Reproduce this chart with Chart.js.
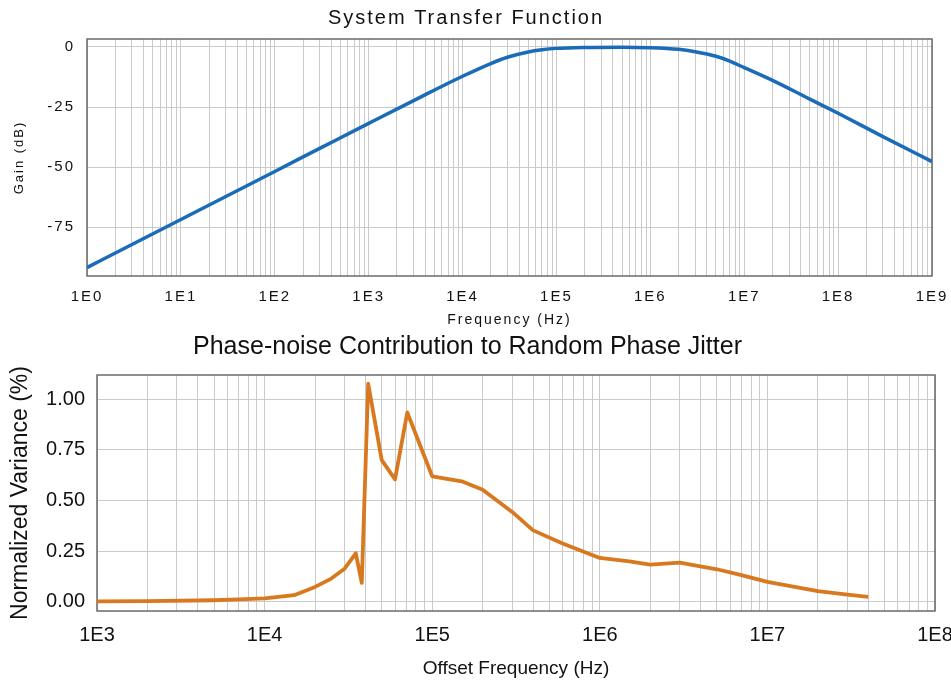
<!DOCTYPE html>
<html>
<head>
<meta charset="utf-8">
<script src="https://cdn.jsdelivr.net/npm/chart.js@4/dist/chart.umd.min.js"></script>
<style>
  html, body { margin: 0; padding: 0; background: #fff; }
  canvas { display: block; }
</style>
</head>
<body>
<canvas id="gain" width="951" height="330"></canvas>
<canvas id="jitter" width="951" height="353"></canvas>
<script>
// System transfer function
var gainFreq = [1, 3.16, 10, 31.6, 100, 316, 1000, 3160, 1e4, 2e4, 3e4, 5e4, 7e4, 1e5, 2e5, 5e5,
	1e6, 2e6, 3e6, 5e6, 7e6, 1e7, 2e7, 5e7, 1e8, 3e8, 1e9];
var gainDb = [-91.8, -81.8, -71.8, -61.8, -51.8, -41.8, -31.8, -21.9, -12.2, -6.9, -4.3, -2.1, -1.2, -0.6, -0.2, -0.1,
	-0.3, -1.0, -2.0, -3.9, -5.9, -8.6, -13.9, -21.7, -27.6, -37.3, -47.7];
var gainTicksY = [-75, -50, -25, 0];

// Phase-noise contribution
var jitterFreq = [1e3, 2e3, 5e3, 7e3, 1e4, 1.5e4, 2e4, 2.5e4, 3e4, 3.5e4, 3.8e4, 4.15e4, 5e4, 6e4, 7.1e4,
	1e5, 1.5e5, 2e5, 3e5, 4e5, 6e5, 1e6, 1.5e6, 2e6, 3e6, 5e6, 7e6, 1e7, 2e7, 3e7, 4e7];
var jitterVar = [0.003, 0.004, 0.008, 0.012, 0.017, 0.033, 0.074, 0.115, 0.164, 0.24, 0.094, 1.077, 0.70, 0.605, 0.935,
	0.62, 0.595, 0.554, 0.444, 0.353, 0.288, 0.217, 0.20, 0.184, 0.194, 0.161, 0.132, 0.099, 0.053, 0.036, 0.025];
var jitterTicksY = [0, 0.25, 0.5, 0.75, 1.0];

var FONT = "'Liberation Sans', Arial, sans-serif";
var GRID = '#cacaca';

function decadeTicks(e0, e1) {
	var out = [];
	for (var e = e0; e < e1; e++) {
		for (var m = 1; m <= 9; m++) out.push({value: m * Math.pow(10, e)});
	}
	out.push({value: Math.pow(10, e1)});
	return out;
}
function decadeLabel(v) {
	var e = Math.log10(v);
	if (Math.abs(e - Math.round(e)) < 1e-6) return '1E' + Math.round(e);
	return '';
}
function toPoints(xs, ys) {
	return xs.map(function(x, i) { return {x: x, y: ys[i]}; });
}

var frame = {
	id: 'frame',
	beforeDatasetsDraw: function(chart) {
		var a = chart.chartArea, ctx = chart.ctx;
		ctx.save();
		ctx.strokeStyle = '#6a6a6a';
		ctx.lineWidth = 1.5;
		ctx.strokeRect(a.left, a.top, a.right - a.left, a.bottom - a.top);
		ctx.restore();
	}
};
var spacing = {
	id: 'spacing',
	beforeDraw: function(chart, args, opts) { chart.ctx.letterSpacing = opts.px + 'px'; }
};

var gainConfig = {
	type: 'line',
	data: {
		datasets: [{
			data: toPoints(gainFreq, gainDb),
			borderColor: '#1a6cb8',
			borderWidth: 3.5,
			pointRadius: 0,
			cubicInterpolationMode: 'monotone',
			fill: false
		}]
	},
	options: {
		responsive: false,
		animation: false,
		layout: {padding: {left: 0, right: 19, top: 0, bottom: 0}},
		plugins: {
			legend: {display: false},
			tooltip: {enabled: false},
			spacing: {px: 2},
			title: {
				display: true,
				text: 'System Transfer Function',
				color: '#111',
				font: {family: FONT, size: 20, weight: 'normal'},
				padding: {top: 6, bottom: 9}
			}
		},
		scales: {
			x: {
				type: 'logarithmic',
				min: 1, max: 1e9,
				afterBuildTicks: function(s) { s.ticks = decadeTicks(0, 9); },
				afterFit: function(s) { s.height = 54; s.paddingLeft = 0; s.paddingRight = 0; },
				grid: {color: GRID, drawTicks: false},
				border: {display: false},
				ticks: {
					autoSkip: false, maxRotation: 0, padding: 12,
					color: '#111', font: {family: FONT, size: 15},
					callback: decadeLabel
				},
				title: {
					display: true, text: 'Frequency (Hz)', color: '#111',
					font: {family: FONT, size: 14}, padding: {top: 0, bottom: 1}
				}
			},
			y: {
				min: -95.3, max: 3.3,
				afterBuildTicks: function(s) { s.ticks = gainTicksY.map(function(v) { return {value: v}; }); },
				afterFit: function(s) { s.width = 87; s.paddingTop = 0; s.paddingBottom = 0; },
				grid: {color: GRID, drawTicks: false},
				border: {display: false},
				ticks: {
					padding: 12, color: '#111', font: {family: FONT, size: 15},
					callback: function(v) { return String(v); }
				},
				title: {
					display: true, text: 'Gain (dB)', color: '#111',
					font: {family: FONT, size: 13}, padding: {top: 12}
				}
			}
		}
	},
	plugins: [frame, spacing]
};

var jitterConfig = {
	type: 'line',
	data: {
		datasets: [{
			data: toPoints(jitterFreq, jitterVar),
			borderColor: '#d9791f',
			borderWidth: 3.8,
			pointRadius: 0,
			tension: 0,
			borderJoinStyle: 'round',
			fill: false
		}]
	},
	options: {
		responsive: false,
		animation: false,
		layout: {padding: {left: 0, right: 16, top: 0, bottom: 0}},
		plugins: {
			legend: {display: false},
			tooltip: {enabled: false},
			title: {
				display: true,
				text: 'Phase-noise Contribution to Random Phase Jitter',
				color: '#111',
				font: {family: FONT, size: 25, weight: 'normal'},
				padding: {top: 2, bottom: 13}
			}
		},
		scales: {
			x: {
				type: 'logarithmic',
				min: 1e3, max: 1e8,
				afterBuildTicks: function(s) { s.ticks = decadeTicks(3, 8); },
				afterFit: function(s) { s.height = 72; s.paddingLeft = 0; s.paddingRight = 0; },
				grid: {color: GRID, drawTicks: false},
				border: {display: false},
				ticks: {
					autoSkip: false, maxRotation: 0, padding: 12,
					color: '#111', font: {family: FONT, size: 20},
					callback: decadeLabel
				},
				title: {
					display: true, text: 'Offset Frequency (Hz)', color: '#111',
					font: {family: FONT, size: 19}, padding: {top: 0, bottom: 3}
				}
			},
			y: {
				min: -0.045, max: 1.12,
				afterBuildTicks: function(s) { s.ticks = jitterTicksY.map(function(v) { return {value: v}; }); },
				afterFit: function(s) { s.width = 97; s.paddingTop = 0; s.paddingBottom = 0; },
				grid: {color: GRID, drawTicks: false},
				border: {display: false},
				ticks: {
					padding: 12, color: '#111', font: {family: FONT, size: 20},
					callback: function(v) { return v.toFixed(2); }
				},
				title: {
					display: true, text: 'Normalized Variance (%)', color: '#111',
					font: {family: FONT, size: 23}, padding: {top: 7}
				}
			}
		}
	},
	plugins: [frame]
};

window.onload = function() {
	window.gainChart = new Chart(document.getElementById('gain'), gainConfig);
	window.jitterChart = new Chart(document.getElementById('jitter'), jitterConfig);
};
</script>
</body>
</html>
